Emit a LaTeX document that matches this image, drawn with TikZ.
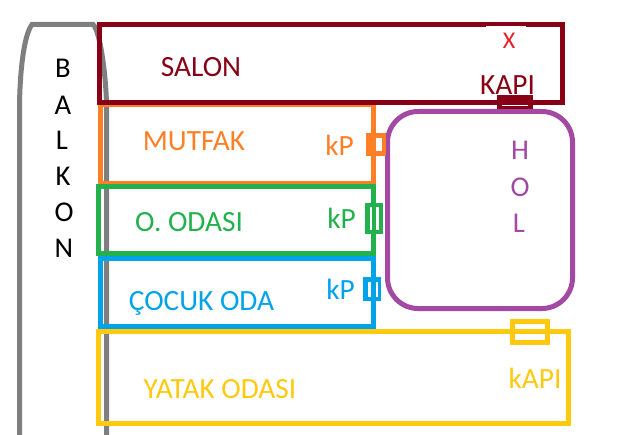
\documentclass[tikz,border=0pt]{standalone}
\usepackage{fontspec}
\setmainfont{Carlito}
\definecolor{cSalon}{HTML}{880015}
\definecolor{cOrange}{HTML}{FF7F27}
\definecolor{cGreen}{HTML}{22B14C}
\definecolor{cBlue}{HTML}{00A2E8}
\definecolor{cYellow}{HTML}{FFC90E}
\definecolor{cPurple}{HTML}{A349A4}
\definecolor{cRed}{HTML}{ED1C24}
\definecolor{cGray}{HTML}{7F7F7F}
\tikzset{
  wall/.style={line width=3.75pt,miter limit=10},
  slit/.style={fill=white,draw=none},
  lbl/.style={font=\fontsize{22}{22}\selectfont,inner sep=0pt,anchor=center},
  letter/.style={font=\fontsize{21.5}{22}\selectfont,inner sep=0pt,anchor=center}
}
\begin{document}
\begin{tikzpicture}[x=0.75pt,y=-0.75pt]
\useasboundingbox (0,0) rectangle (618,435);
% balcony
\draw[wall,cGray] (19.5,435) -- (19.5,105) .. controls (20,70) and (24,35) .. (32,24.5) -- (93,24.5) .. controls (100,30) and (106,75) .. (106.5,105) -- (106.5,435);
% rooms
\draw[wall,cOrange] (100.5,105) rectangle (373.5,183);
\draw[wall,cSalon] (99.5,24.5) rectangle (562.5,102.5);
\fill[white] (486,26.2) rectangle (526,50);
\draw[wall,cBlue] (100.5,258.5) rectangle (373,326);
\draw[wall,cGreen] (98.5,186.5) rectangle (373.5,253.5);
\draw[wall,cYellow] (98.5,331.5) rectangle (568.5,423.5);
\draw[wall,cPurple,rounded corners=23pt] (387.5,111.5) rectangle (572.5,308.5);
% doors
\fill[cSalon] (497,95) rectangle (533,109);
\path[slit] (502,105) rectangle (528,106.5);
\fill[cOrange] (366,133) rectangle (386,156);
\path[slit] (376,138) rectangle (382,151);
\fill[cGreen] (365,203) rectangle (382.5,234);
\path[slit] (369.5,207) rectangle (371.7,230);
\path[slit] (376,207) rectangle (379,230);
\fill[cBlue] (363,277) rectangle (381,301);
\path[slit] (368,281.5) rectangle (371,297);
\path[slit] (375.5,281.5) rectangle (378,297);
\draw[wall,cYellow] (512.5,321.5) rectangle (547.5,342.5);
% labels
\node[lbl,text=cSalon] (salon) at (201,67) {SALON};
\node[lbl,text=cRed,font=\fontsize{18}{18}\selectfont] (x) at (509,41) {X};
\node[lbl,text=cSalon] (kapi) at (507.5,85) {KAPI};
\node[lbl,text=cOrange] (mutfak) at (194,141) {MUTFAK};
\node[lbl,text=cOrange] (kp1) at (339.5,145) {kP};
\node[lbl,text=cGreen] (odasi) at (189,222) {O. ODASI};
\node[lbl,text=cGreen] (kp2) at (341.5,218) {kP};
\node[lbl,text=cBlue] (cocuk) at (201.5,303) {ÇOCUK ODA};
\node[lbl,text=cBlue] (kp3) at (340.5,289) {kP};
\node[lbl,text=cYellow] (yatak) at (220,389) {YATAK ODASI};
\node[lbl,text=cYellow] (kapiy) at (535,378) {kAPI};
\node[letter,text=cPurple] (h1) at (520,150) {H};
\node[letter,text=cPurple] (h2) at (520,187) {O};
\node[letter,text=cPurple] (h3) at (519,223) {L};
\node[letter,text=black] (b1) at (63,68) {B};
\node[letter,text=black] (b2) at (63,105) {A};
\node[letter,text=black] (b3) at (62,140) {L};
\node[letter,text=black] (b4) at (63,176) {K};
\node[letter,text=black] (b5) at (64,212) {O};
\node[letter,text=black] (b6) at (64,248) {N};
\end{tikzpicture}
\end{document}
